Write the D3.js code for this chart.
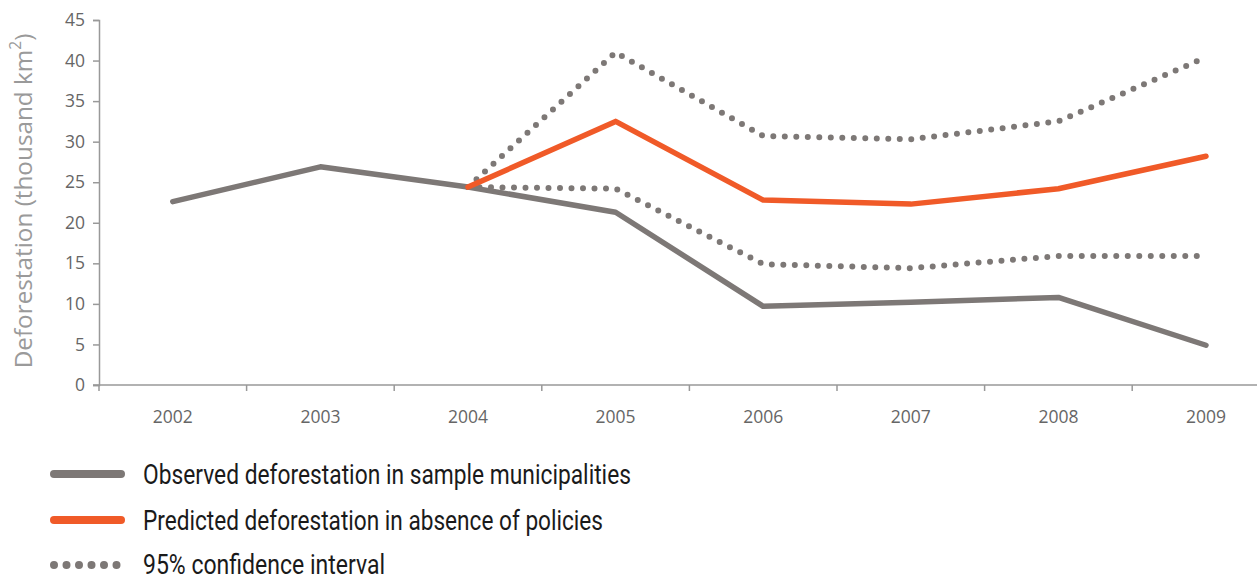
<!DOCTYPE html>
<html><head><meta charset="utf-8">
<script src="https://cdn.jsdelivr.net/npm/d3@7"></script>
<style>body{margin:0;background:#fff}svg{display:block}</style>
</head><body>
<svg id="c" width="1257" height="576"></svg>
<script>
const years = ["2002","2003","2004","2005","2006","2007","2008","2009"];
const observed = [22.6, 26.9, 24.4, 21.3, 9.7, 10.2, 10.8, 4.9];
const predicted = [null, null, 24.4, 32.5, 22.8, 22.3, 24.2, 28.2];
const ciUpper = [null, null, 24.4, 41.0, 30.7, 30.3, 32.5, 40.4];
const ciLower = [null, null, 24.4, 24.2, 14.9, 14.4, 15.9, 15.9];
const yTicks = [0,5,10,15,20,25,30,35,40,45];
const legendLabels = ["Observed deforestation in sample municipalities","Predicted deforestation in absence of policies","95% confidence interval"];

const svg = d3.select("#c");
const mLeft = 99, mTop = 20, mBottom = 385;
const x = d3.scaleBand().domain(years).range([mLeft, mLeft + 8*147.6]);
const y = d3.scaleLinear().domain([0,45]).range([mBottom, mTop]);
const gray = "#7d7876", orange = "#f05a28", axisCol = "#999";

// y axis
const ya = svg.append("g").attr("transform", `translate(${mLeft},0)`)
  .call(d3.axisLeft(y).tickValues(yTicks).tickSize(6).tickPadding(8));
ya.select(".domain").attr("stroke", axisCol).attr("stroke-width",1.5);
ya.selectAll(".tick line").attr("stroke", axisCol).attr("stroke-width",1.5);
ya.selectAll("text").attr("fill","#666").attr("font-family","Open Sans, sans-serif").attr("font-size",17.5);

// x axis line
svg.append("line").attr("x1",mLeft-6).attr("x2",1257).attr("y1",mBottom).attr("y2",mBottom)
  .attr("stroke",axisCol).attr("stroke-width",1.5);
svg.append("g").selectAll("line").data(years).join("line")
  .attr("x1",d=>x(d)).attr("x2",d=>x(d)).attr("y1",mBottom).attr("y2",mBottom+6)
  .attr("stroke",axisCol).attr("stroke-width",1.5);
svg.append("g").selectAll("text").data(years).join("text")
  .attr("x",d=>x(d)+x.bandwidth()/2).attr("y",mBottom+38)
  .attr("text-anchor","middle").attr("fill","#666")
  .attr("font-family","Open Sans, sans-serif").attr("font-size",17.5).text(d=>d);

// y label
const yl = svg.append("text").attr("transform",`translate(32,201) rotate(-90)`)
  .attr("text-anchor","middle").attr("fill","#9a9a9a")
  .attr("font-family","Open Sans, sans-serif").attr("font-size",24.3);
yl.append("tspan").text("Deforestation (thousand km");
yl.append("tspan").attr("baseline-shift","super").attr("font-size",15.5).text("2");
yl.append("tspan").text(")");

const line = d3.line().defined(d=>d[1]!=null)
  .x(d=>x(d[0])+x.bandwidth()/2).y(d=>y(d[1]));
const pts = arr => years.map((yr,i)=>[yr,arr[i]]);

[ciUpper, ciLower].forEach(a=>{
  svg.append("path").attr("d", line(pts(a))).attr("fill","none")
    .attr("stroke",gray).attr("stroke-width",6).attr("stroke-dasharray","0 11.5").attr("stroke-linecap","round");
});
svg.append("path").attr("d", line(pts(observed))).attr("fill","none")
  .attr("stroke",gray).attr("stroke-width",5.5).attr("stroke-linejoin","round").attr("stroke-linecap","round");
svg.append("path").attr("d", line(pts(predicted))).attr("fill","none")
  .attr("stroke",orange).attr("stroke-width",5.5).attr("stroke-linejoin","round").attr("stroke-linecap","round");

// legend
const lg = svg.append("g");
const ly = [474, 520, 565];
const lw = [488, 460, 242];
lg.append("line").attr("x1",54).attr("x2",121).attr("y1",ly[0]).attr("y2",ly[0])
  .attr("stroke",gray).attr("stroke-width",8).attr("stroke-linecap","round");
lg.append("line").attr("x1",54).attr("x2",121).attr("y1",ly[1]).attr("y2",ly[1])
  .attr("stroke",orange).attr("stroke-width",8).attr("stroke-linecap","round");
lg.append("line").attr("x1",54).attr("x2",129).attr("y1",ly[2]).attr("y2",ly[2])
  .attr("stroke",gray).attr("stroke-width",8).attr("stroke-linecap","round").attr("stroke-dasharray","0 12.5");
lg.selectAll("text").data(legendLabels).join("text")
  .attr("x",143).attr("y",(d,i)=>ly[i]+(i===2?9:10))
  .attr("textLength",(d,i)=>lw[i]).attr("lengthAdjust","spacingAndGlyphs")
  .attr("fill","#1a1a1a").attr("font-family","Roboto, sans-serif")
  .attr("font-size",28.5).text(d=>d);
</script>
</body></html>
